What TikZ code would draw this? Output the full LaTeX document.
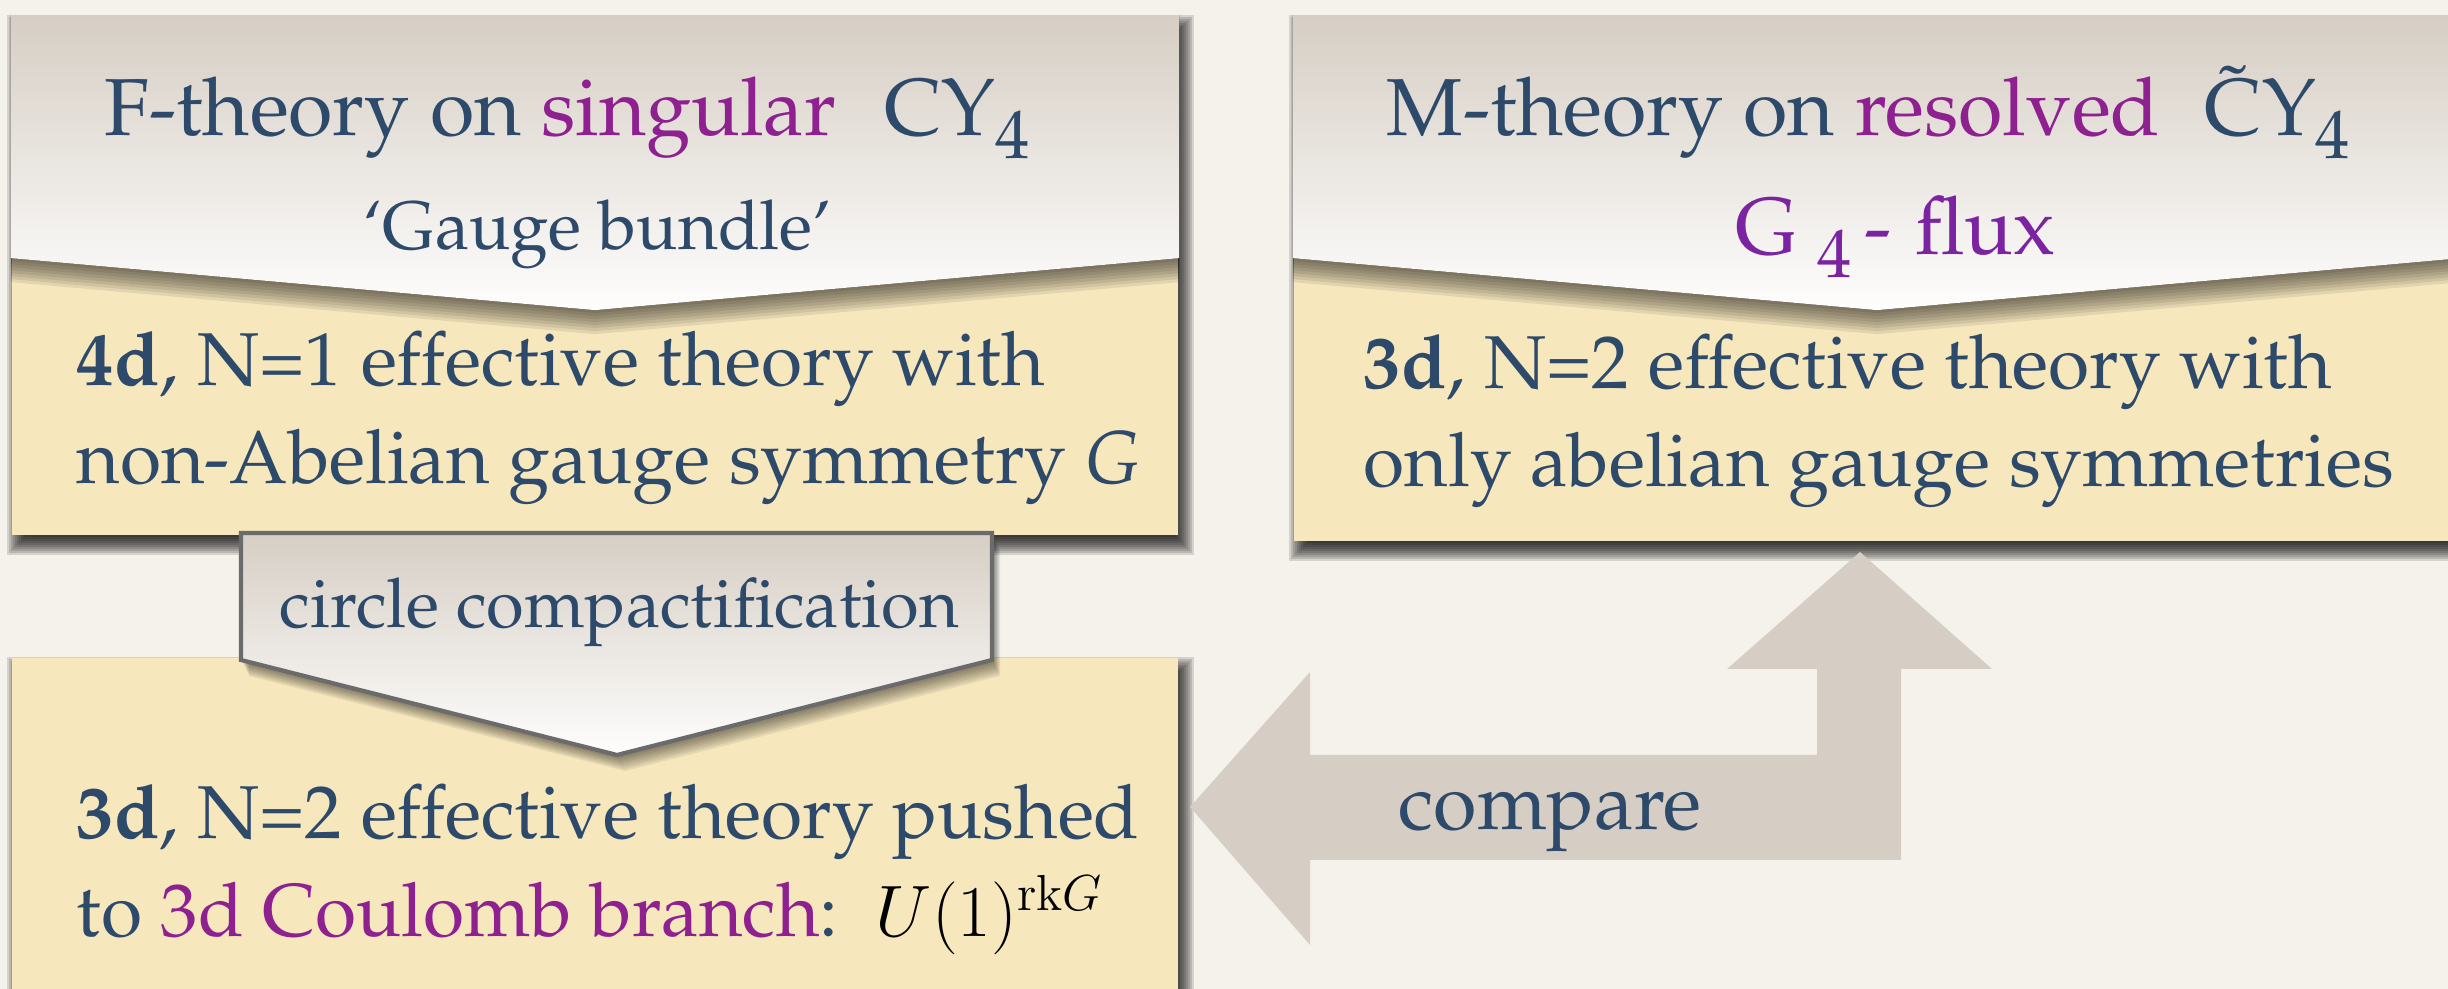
\documentclass[tikz,border=0pt]{standalone}
\usepackage[T1]{fontenc}
\usepackage{palatino}
\usetikzlibrary{calc,backgrounds}

\definecolor{paper}{HTML}{F5F2EC}
\definecolor{cream}{HTML}{F6E7BD}
\definecolor{taupe}{HTML}{D6CEC4}
\definecolor{rim}{HTML}{6B6B6B}
\definecolor{ink}{HTML}{2E4A6B}
\definecolor{plum}{HTML}{8E2090}
\definecolor{grape}{HTML}{7B23A0}

\newcommand{\lowsub}[1]{\raisebox{-6.4pt}{\fontsize{19.5}{20}\selectfont #1}}

\begin{document}
\begin{tikzpicture}[x=0.01cm, y=-0.01cm,
    card/.style={fill=cream, inner sep=0pt, minimum width=11.66cm},
    chevron/.style={top color=taupe, bottom color=white!97!taupe},
    blur/.style={fill=black, opacity=0.13},
    crease/.style={fill=black, opacity=0.08},
    txt/.style={inner sep=0pt, anchor=base west, text=ink, align=left},
    big/.style={txt, font=\fontsize{23}{28}\selectfont},
    body/.style={txt, font=\fontsize{21.3}{27.9}\selectfont},
    small/.style={txt, font=\fontsize{19.5}{24}\selectfont}]
    \useasboundingbox (0,0) rectangle (2448,989);

    % Cards
    \node[card, minimum height=5.19cm] (fcard) at (595,275.5) {};
    \node[card, minimum height=5.25cm] (mcard) at (1877,278.5) {};
    \node[card, minimum height=3.42cm] (ccard) at (595,829) {};

    % Paper and card shadows
    \begin{pgfonlayer}{background}
        \fill[paper] (0,0) rectangle (2448,989);
        \foreach \r in {0,2,...,18} {
            \fill[blur] ($(fcard.north west)+(14-\r,18-\r)$) rectangle ($(fcard.south east)+(\r-3,\r+1)$);
            \fill[blur] ($(mcard.north west)+(14-\r,18-\r)$) rectangle ($(mcard.south east)+(\r-3,\r+1)$);
            \fill[blur] ($(ccard.north west)+(14-\r,18-\r)$) rectangle ($(ccard.south east)+(\r-3,\r+1)$);
        }
    \end{pgfonlayer}

    % Headers with their shadow on the cards
    \foreach \c in {fcard,mcard} {
        \foreach \r in {3,6,...,24}
            \fill[crease] ($(\c.north west)+(0,243+\r)$) -- ($(\c.north)+(0,295+\r)$) -- ($(\c.north east)+(0,243+\r)$)
                -- ($(\c.north east)+(0,243)$) -- ($(\c.north)+(0,295)$) -- ($(\c.north west)+(0,243)$) -- cycle;
        \fill[chevron] (\c.north west) -- (\c.north east) -- ($(\c.north east)+(0,243)$)
            -- ($(\c.north)+(0,295)$) -- ($(\c.north west)+(0,243)$) -- cycle;
    }

    % Circle compactification arrow
    \foreach \r in {2,4,...,16}
        \fill[black, opacity=0.07, shift={(\r/2,\r)}] (241,533) -- (992,533) -- (992,660) -- (617,755) -- (241,660) -- cycle;
    \path[draw=rim, line width=1.2pt, chevron] (241,533) -- (992,533) -- (992,660) -- (617,755) -- (241,660) -- cycle;

    % Compare arrow
    \fill[taupe] (1190,807) -- (1310,672) -- (1310,755) -- (1817,755) -- (1817,669) -- (1727,669) -- (1860,552)
        -- (1992,669) -- (1901,669) -- (1901,860) -- (1310,860) -- (1310,945) -- cycle;

    % Texts (two-line nodes sit on their last baseline)
    \node[big] (ftitle) at (104,136) {F-theory on \textcolor{plum}{singular}\hspace{.6em}CY\lowsub{4}};
    \node[small] (fbundle) at (363,250) {`Gauge bundle'};
    \node[body] (ftext) at (76,484) {\textbf{4d}, N=1 effective theory with\\non-Abelian gauge symmetry \textit{G}};
    \node[big] (mtitle) at (1386,136) {M-theory on \textcolor{plum}{resolved}\hspace{.55em}\~{C}Y\lowsub{4}};
    \node[big, text=grape] (mflux) at (1735,255) {G\hspace{.25em}\lowsub{4}\hspace{.15em}-\hspace{.3em}flux};
    \node[body] (mtext) at (1363,487) {\textbf{3d}, N=2 effective theory with\\only abelian gauge symmetries};
    \node[small] (circ) at (279,628) {circle compactification};
    \node[body] (ctext) at (76,937) {\textbf{3d}, N=2 effective theory pushed\\to \textcolor{plum}{3d Coulomb branch}:\hspace{.5em}\textcolor{black}{$U(1)^{\mathrm{rk}G}$}};
    \node[txt, font=\fontsize{22.5}{27}\selectfont] (cmp) at (1398,830) {compare};
\end{tikzpicture}
\end{document}
